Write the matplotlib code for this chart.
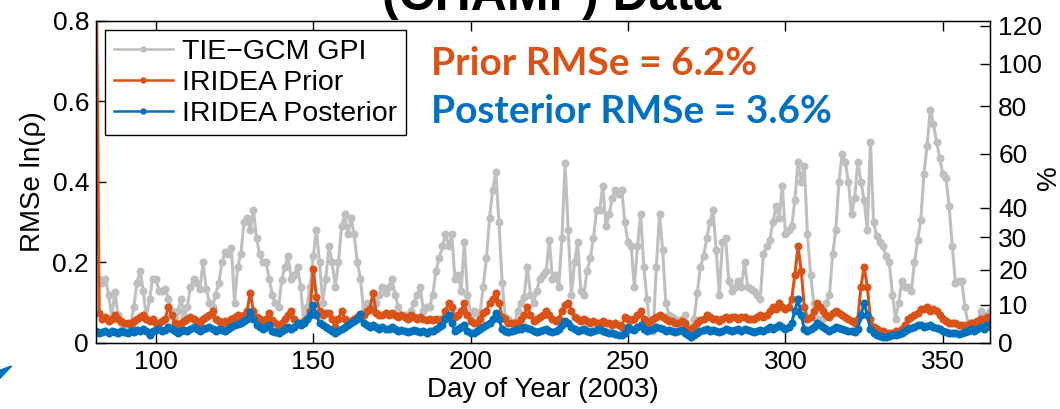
import numpy as np
import matplotlib.pyplot as plt
from matplotlib.patches import Polygon

# day of year 81..365, one value per day
days = np.arange(81, 366)

gcm_gpi = [
    0.16, 0.16, 0.15, 0.16, 0.12, 0.065, 0.127, 0.07, 0.05, 0.04,        # 81-90
    0.04, 0.045, 0.09, 0.15, 0.18, 0.13, 0.06, 0.11, 0.16, 0.16,         # 91-100
    0.13, 0.13, 0.135, 0.11, 0.08, 0.065, 0.08, 0.11, 0.065, 0.09,       # 101-110
    0.14, 0.16, 0.15, 0.135, 0.2, 0.135, 0.1, 0.09, 0.12, 0.15,          # 111-120
    0.2, 0.225, 0.22, 0.235, 0.1, 0.19, 0.22, 0.3, 0.31, 0.28,           # 121-130
    0.33, 0.26, 0.22, 0.2, 0.2, 0.16, 0.12, 0.10, 0.09, 0.157,           # 131-140
    0.19, 0.215, 0.16, 0.17, 0.19, 0.14, 0.05, 0.09, 0.14, 0.215,        # 141-150
    0.28, 0.2, 0.1, 0.16, 0.24, 0.2, 0.14, 0.2, 0.29, 0.32,              # 151-160
    0.27, 0.31, 0.27, 0.2, 0.16, 0.08, 0.1, 0.09, 0.08, 0.1,             # 161-170
    0.12, 0.14, 0.125, 0.14, 0.16, 0.12, 0.09, 0.07, 0.07, 0.07,         # 171-180
    0.08, 0.1, 0.12, 0.14, 0.08, 0.09, 0.09, 0.12, 0.18, 0.21,           # 181-190
    0.24, 0.27, 0.24, 0.27, 0.16, 0.17, 0.13, 0.25, 0.12, 0.07,          # 191-200
    0.08, 0.075, 0.075, 0.14, 0.21, 0.31, 0.38, 0.425, 0.3, 0.15,        # 201-210
    0.065, 0.06, 0.05, 0.05, 0.08, 0.1, 0.115, 0.19, 0.12, 0.1,          # 211-220
    0.13, 0.16, 0.17, 0.18, 0.255, 0.16, 0.17, 0.14, 0.26, 0.447,        # 221-230
    0.28, 0.12, 0.2, 0.25, 0.13, 0.12, 0.18, 0.21, 0.26, 0.33,           # 231-240
    0.33, 0.39, 0.29, 0.32, 0.36, 0.38, 0.37, 0.38, 0.3, 0.25,           # 241-250
    0.24, 0.14, 0.24, 0.32, 0.19, 0.11, 0.04, 0.03, 0.19, 0.32,          # 251-260
    0.23, 0.1, 0.07, 0.065, 0.06, 0.055, 0.06, 0.07, 0.04, 0.025,        # 261-270
    0.06, 0.125, 0.19, 0.215, 0.26, 0.3, 0.33, 0.23, 0.12, 0.25,         # 271-280
    0.26, 0.155, 0.13, 0.14, 0.155, 0.14, 0.2, 0.14, 0.135, 0.13,        # 281-290
    0.12, 0.11, 0.22, 0.24, 0.255, 0.3, 0.34, 0.31, 0.39, 0.27,          # 291-300
    0.28, 0.29, 0.355, 0.45, 0.4, 0.44, 0.27, 0.17, 0.1, 0.06,           # 301-310
    0.06, 0.06, 0.1, 0.12, 0.22, 0.28, 0.4, 0.47, 0.45, 0.4,             # 311-320
    0.32, 0.36, 0.45, 0.4, 0.355, 0.28, 0.5, 0.3, 0.265, 0.25,           # 321-330
    0.24, 0.215, 0.2, 0.12, 0.06, 0.1, 0.155, 0.14, 0.14, 0.13,          # 331-340
    0.2, 0.255, 0.305, 0.42, 0.49, 0.58, 0.545, 0.5, 0.46, 0.42,         # 341-350
    0.41, 0.34, 0.24, 0.15, 0.155, 0.155, 0.09, 0.05, 0.05, 0.04,        # 351-360
    0.05, 0.08, 0.06, 0.07, 0.08,                                        # 361-365
]

iridea_prior = [
    1.0, 0.075, 0.06, 0.065, 0.055, 0.06, 0.07, 0.06, 0.055, 0.05,       # 81-90
    0.05, 0.045, 0.055, 0.06, 0.065, 0.07, 0.06, 0.055, 0.06, 0.05,      # 91-100
    0.05, 0.055, 0.06, 0.09, 0.07, 0.05, 0.045, 0.05, 0.055, 0.06,       # 101-110
    0.065, 0.06, 0.055, 0.05, 0.06, 0.065, 0.07, 0.08, 0.06, 0.055,      # 111-120
    0.05, 0.055, 0.05, 0.06, 0.065, 0.07, 0.065, 0.07, 0.08, 0.125,      # 121-130
    0.08, 0.065, 0.06, 0.055, 0.06, 0.075, 0.057, 0.05, 0.04, 0.05,      # 131-140
    0.06, 0.07, 0.08, 0.06, 0.05, 0.05, 0.055, 0.06, 0.08, 0.185,        # 141-150
    0.115, 0.08, 0.07, 0.075, 0.075, 0.06, 0.04, 0.06, 0.08, 0.06,       # 151-160
    0.05, 0.055, 0.06, 0.065, 0.065, 0.07, 0.08, 0.085, 0.125, 0.075,    # 161-170
    0.07, 0.07, 0.075, 0.07, 0.075, 0.07, 0.065, 0.07, 0.065, 0.06,      # 171-180
    0.07, 0.065, 0.06, 0.065, 0.06, 0.057, 0.06, 0.057, 0.06, 0.057,     # 181-190
    0.06, 0.08, 0.1, 0.09, 0.065, 0.07, 0.08, 0.1, 0.07, 0.055,          # 191-200
    0.05, 0.05, 0.06, 0.075, 0.08, 0.1, 0.11, 0.125, 0.1, 0.065,         # 201-210
    0.06, 0.05, 0.05, 0.05, 0.05, 0.06, 0.07, 0.09, 0.07, 0.055,         # 211-220
    0.06, 0.065, 0.07, 0.08, 0.07, 0.06, 0.055, 0.06, 0.08, 0.095,       # 221-230
    0.1, 0.08, 0.065, 0.06, 0.055, 0.06, 0.055, 0.05, 0.055, 0.05,       # 231-240
    0.05, 0.055, 0.05, 0.05, 0.045, 0.05, 0.045, 0.04, 0.065, 0.06,      # 241-250
    0.057, 0.06, 0.07, 0.08, 0.06, 0.05, 0.055, 0.06, 0.065, 0.07,       # 251-260
    0.065, 0.06, 0.055, 0.055, 0.05, 0.05, 0.055, 0.05, 0.035, 0.025,    # 261-270
    0.04, 0.05, 0.057, 0.06, 0.07, 0.065, 0.06, 0.06, 0.055, 0.06,       # 271-280
    0.065, 0.06, 0.065, 0.065, 0.06, 0.065, 0.065, 0.06, 0.06, 0.06,     # 281-290
    0.065, 0.07, 0.065, 0.07, 0.08, 0.09, 0.085, 0.1, 0.09, 0.085,       # 291-300
    0.09, 0.11, 0.17, 0.24, 0.18, 0.09, 0.06, 0.065, 0.08, 0.1,          # 301-310
    0.09, 0.08, 0.07, 0.065, 0.075, 0.08, 0.075, 0.07, 0.065, 0.06,      # 311-320
    0.055, 0.05, 0.06, 0.14, 0.19, 0.14, 0.06, 0.04, 0.035, 0.03,        # 321-330
    0.03, 0.025, 0.025, 0.025, 0.03, 0.03, 0.035, 0.045, 0.06, 0.065,    # 331-340
    0.07, 0.075, 0.085, 0.085, 0.09, 0.08, 0.085, 0.08, 0.07, 0.06,      # 341-350
    0.055, 0.05, 0.05, 0.05, 0.045, 0.045, 0.04, 0.045, 0.05, 0.05,      # 351-360
    0.055, 0.06, 0.055, 0.065, 0.05,                                     # 361-365
]

iridea_posterior = [
    0.03, 0.025, 0.028, 0.03, 0.025, 0.03, 0.028, 0.025, 0.03, 0.028,    # 81-90
    0.025, 0.03, 0.028, 0.032, 0.03, 0.035, 0.03, 0.02, 0.03, 0.032,     # 91-100
    0.035, 0.03, 0.032, 0.04, 0.035, 0.03, 0.025, 0.03, 0.032, 0.03,     # 101-110
    0.035, 0.04, 0.035, 0.03, 0.035, 0.038, 0.04, 0.035, 0.03, 0.035,    # 111-120
    0.032, 0.03, 0.035, 0.04, 0.045, 0.046, 0.05, 0.055, 0.06, 0.078,    # 121-130
    0.06, 0.045, 0.04, 0.035, 0.04, 0.045, 0.03, 0.028, 0.025, 0.03,     # 131-140
    0.035, 0.04, 0.035, 0.04, 0.05, 0.045, 0.05, 0.06, 0.07, 0.095,      # 141-150
    0.07, 0.05, 0.045, 0.04, 0.035, 0.03, 0.025, 0.03, 0.035, 0.04,      # 151-160
    0.045, 0.05, 0.055, 0.06, 0.072, 0.05, 0.045, 0.04, 0.045, 0.04,     # 161-170
    0.035, 0.04, 0.035, 0.035, 0.04, 0.035, 0.03, 0.032, 0.03, 0.028,    # 171-180
    0.03, 0.032, 0.03, 0.028, 0.03, 0.025, 0.03, 0.03, 0.035, 0.04,      # 181-190
    0.045, 0.06, 0.07, 0.05, 0.03, 0.035, 0.04, 0.045, 0.03, 0.025,      # 191-200
    0.025, 0.03, 0.035, 0.04, 0.045, 0.05, 0.06, 0.075, 0.06, 0.035,     # 201-210
    0.03, 0.028, 0.03, 0.032, 0.035, 0.035, 0.04, 0.038, 0.035, 0.03,    # 211-220
    0.028, 0.03, 0.032, 0.035, 0.03, 0.028, 0.03, 0.035, 0.045, 0.055,   # 221-230
    0.05, 0.04, 0.035, 0.03, 0.032, 0.035, 0.03, 0.028, 0.03, 0.032,     # 231-240
    0.035, 0.03, 0.028, 0.025, 0.025, 0.022, 0.02, 0.02, 0.025, 0.04,    # 241-250
    0.035, 0.032, 0.04, 0.045, 0.035, 0.03, 0.032, 0.035, 0.04, 0.038,   # 251-260
    0.035, 0.03, 0.032, 0.03, 0.028, 0.03, 0.032, 0.025, 0.02, 0.015,    # 261-270
    0.02, 0.025, 0.03, 0.032, 0.035, 0.03, 0.032, 0.03, 0.028, 0.03,     # 271-280
    0.035, 0.032, 0.03, 0.032, 0.035, 0.03, 0.035, 0.032, 0.03, 0.028,   # 281-290
    0.03, 0.032, 0.03, 0.035, 0.04, 0.035, 0.04, 0.045, 0.04, 0.035,     # 291-300
    0.04, 0.05, 0.08, 0.11, 0.07, 0.035, 0.03, 0.035, 0.04, 0.05,        # 301-310
    0.045, 0.04, 0.035, 0.03, 0.035, 0.04, 0.038, 0.035, 0.032, 0.03,    # 311-320
    0.03, 0.028, 0.035, 0.07, 0.1, 0.07, 0.035, 0.025, 0.02, 0.018,      # 321-330
    0.015, 0.015, 0.018, 0.02, 0.02, 0.022, 0.025, 0.03, 0.035, 0.038,   # 331-340
    0.04, 0.045, 0.045, 0.04, 0.042, 0.045, 0.04, 0.038, 0.035, 0.03,    # 341-350
    0.028, 0.025, 0.025, 0.025, 0.022, 0.025, 0.028, 0.03, 0.035, 0.03,  # 351-360
    0.035, 0.04, 0.035, 0.045, 0.04,                                     # 361-365
]

left_ticks = [0, 0.2, 0.4, 0.6, 0.8]
pct_ticks = [0, 10, 20, 30, 40, 60, 80, 100, 120]
prior_rmse = 6.2
post_rmse = 3.6

# Colors
c_gray = '#BFBFBF'
c_prior = '#D95319'
c_post = '#0072BD'

plt.rcParams['font.family'] = ['Liberation Sans', 'DejaVu Sans']

fig = plt.figure(figsize=(10.6, 4.09), dpi=100)
ax = fig.add_axes([0.0906, 0.1614, 0.8434, 0.7873])

style = dict(marker='o', markersize=4.8, linewidth=2.2)
ax.plot(days, gcm_gpi, color=c_gray, label='TIE\u2212GCM GPI', **style)
ax.plot(days, iridea_prior, color=c_prior, label='IRIDEA Prior', **style)
ax.plot(days, iridea_posterior, color=c_post, label='IRIDEA Posterior', **style)

ax.set_xlim(81, 365)
ax.set_ylim(0, 0.8)
ax.set_xticks([100, 150, 200, 250, 300, 350])
ax.set_yticks(left_ticks)
ax.set_yticklabels(['0', '0.2', '0.4', '0.6', '0.8'])
ax.tick_params(direction='in', length=7, width=1, labelsize=19, top=True, right=False, pad=5)
ax.set_xlabel('Day of Year (2003)', fontsize=20, labelpad=2)
ax.set_ylabel('RMSe ln(\u03c1)', fontsize=20, labelpad=5)
for s in ax.spines.values():
    s.set_linewidth(1)

# right axis in percent, same ln scale: ln(1 + p/100)
ax2 = ax.twinx()
ax2.set_ylim(0, 0.8)
ax2.set_yticks(np.log1p(np.array(pct_ticks) / 100.0))
ax2.set_yticklabels([str(p) for p in pct_ticks])
ax2.tick_params(direction='in', length=7, width=1, labelsize=19, pad=6)
fig.text(1049 / 1060, 0.565, '%', rotation=90, ha='center', va='center', fontsize=20)

leg = ax.legend(loc='upper left', bbox_to_anchor=(0.01, 0.972), borderaxespad=0,
                fontsize=20.5, frameon=True, fancybox=False, framealpha=1,
                edgecolor='black', handlelength=2.1, handletextpad=0.3,
                borderpad=0.3, labelspacing=0.18, markerscale=0.75)
leg.get_frame().set_linewidth(1)
for h in leg.get_lines():
    h.set_linewidth(1.8)

# RMSe annotations
ax.text(0.375, 0.832, f'Prior RMSe = {prior_rmse}%', transform=ax.transAxes,
        color=c_prior, fontsize=28, fontweight='bold', family='Lato', va='baseline')
ax.text(0.375, 0.683, f'Posterior RMSe = {post_rmse}%', transform=ax.transAxes,
        color='#0070C0', fontsize=28, fontweight='bold', family='Lato', va='baseline')

# title, cut off at the top of the slide
fig.text(0.52, 0.975, '(CHAMP) Data', ha='center', va='baseline',
         fontsize=36, fontweight='bold')

# slide arrow fragment at bottom-left
fig.patches.append(Polygon([[0.0, 0.095], [0.011, 0.105], [0.0, 0.075]],
                           closed=True, transform=fig.transFigure,
                           color='#0070C0'))

fig.savefig('out.png', dpi=100)
